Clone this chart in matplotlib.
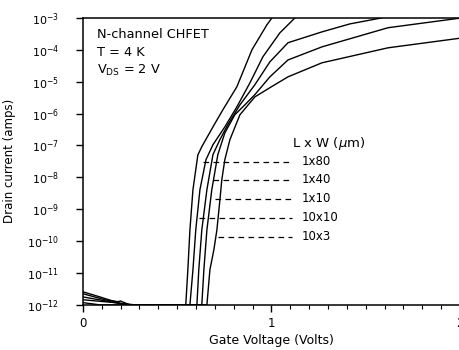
import numpy as np
import matplotlib
matplotlib.use("Agg")
import matplotlib.pyplot as plt
from matplotlib.ticker import MultipleLocator, NullLocator, FixedLocator

# gate voltage (V) and log10 drain current (A)
v1 = [0, 0.09, 0.223, 0.546, 0.557, 0.568, 0.584, 0.610, 0.631, 0.690, 0.743, 0.817, 0.897, 0.976, 1.003]
i1 = [-11.59, -11.75, -12.0, -12.0, -10.90, -9.65, -8.39, -7.30, -7.04, -6.42, -5.88, -5.16, -4.00, -3.22, -3.0]

v2 = [0, 0.117, 0.186, 0.2, 0.249, 0.568, 0.584, 0.599, 0.621, 0.653, 0.690, 0.753, 0.817, 0.886, 0.955, 1.045, 1.125]
i2 = [-11.65, -11.84, -11.90, -11.88, -12.0, -12.0, -10.90, -9.65, -8.39, -7.45, -6.98, -6.42, -5.79, -5.04, -4.22, -3.47, -3.0]

v3 = [0, 0.143, 0.233, 0.605, 0.615, 0.631, 0.658, 0.690, 0.727, 0.769, 0.833, 0.912, 0.992, 1.088, 1.268, 1.416, 1.586]
i3 = [-11.75, -11.90, -12.0, -12.0, -10.90, -9.65, -8.39, -7.29, -6.82, -6.35, -5.73, -5.10, -4.38, -3.78, -3.44, -3.19, -3.0]

v4 = [0, 0.170, 0.276, 0.631, 0.642, 0.658, 0.684, 0.716, 0.753, 0.806, 0.859, 0.912, 0.992, 1.088, 1.268, 1.618, 1.973, 2.01]
i4 = [-11.84, -11.93, -12.0, -12.0, -10.90, -9.65, -8.39, -7.29, -6.61, -6.04, -5.73, -5.41, -4.85, -4.32, -3.91, -3.31, -3.03, -3.0]

v5 = [0, 0.09, 0.658, 0.674, 0.695, 0.711, 0.727, 0.737, 0.753, 0.780, 0.833, 0.912, 0.992, 1.088, 1.268, 1.618, 1.973, 2.01]
i5 = [-11.93, -12.0, -12.0, -10.90, -10.27, -9.65, -8.71, -8.08, -7.45, -6.82, -6.04, -5.48, -5.19, -4.85, -4.41, -3.94, -3.66, -3.63]

curves = [(v1, i1), (v2, i2), (v3, i3), (v4, i4), (v5, i5)]

# device sizes and where their leader lines sit
sizes = ["1x80", "1x40", "1x10", "10x10", "10x3"]
label_v = [0.637, 0.690, 0.700, 0.615, 0.716]
label_i = [-7.51, -8.08, -8.68, -9.27, -9.87]
leader_end = 1.109

fig = plt.figure(figsize=(4.6, 3.5), dpi=100)
ax = fig.add_axes([0.180, 0.129, 0.820, 0.820])

for v, li in curves:
    ax.plot(v, 10.0 ** np.array(li), color="black", lw=1.0)

for s, v, li in zip(sizes, label_v, label_i):
    ax.plot([v, leader_end], [10 ** li, 10 ** li], color="black", lw=0.9, dashes=(4.5, 3.5))
    ax.text(1.16, 10 ** li, s, fontsize=8.5, va="center", ha="left")

ax.text(1.11, 10 ** -6.95, r"L x W ($\mu$m)", fontsize=9.5, va="center", ha="left")

ax.text(0.075, 10 ** -3.53, "N-channel CHFET", fontsize=9.3, va="center")
ax.text(0.075, 10 ** -4.10, "T = 4 K", fontsize=9.3, va="center")
ax.text(0.075, 10 ** -4.66, r"V$_{\mathrm{DS}}$ = 2 V", fontsize=9.3, va="center")

ax.set_yscale("log")
ax.set_ylim(1e-12, 1e-3)
ax.set_xlim(0, 2)
ax.yaxis.set_major_locator(FixedLocator([10.0 ** k for k in range(-12, -2)]))
ax.yaxis.set_minor_locator(NullLocator())
ax.xaxis.set_major_locator(FixedLocator([0, 1, 2]))
ax.xaxis.set_minor_locator(MultipleLocator(0.1))
ax.set_xticklabels(["0", "1", "2"])

ax.tick_params(axis="x", which="major", direction="out", length=5, width=1, labelsize=8.5)
ax.tick_params(axis="y", which="major", direction="out", length=5, width=1, labelsize=8, pad=12)
ax.tick_params(axis="x", which="minor", direction="out", length=3, width=0.8)
ax.spines["right"].set_visible(False)
for sp in ["left", "bottom", "top"]:
    ax.spines[sp].set_linewidth(1.1)

ax.set_xlabel("Gate Voltage (Volts)", fontsize=9, labelpad=3)
ax.set_ylabel("Drain current (amps)", fontsize=8.5, labelpad=8)

fig.savefig("out.png", dpi=100)
